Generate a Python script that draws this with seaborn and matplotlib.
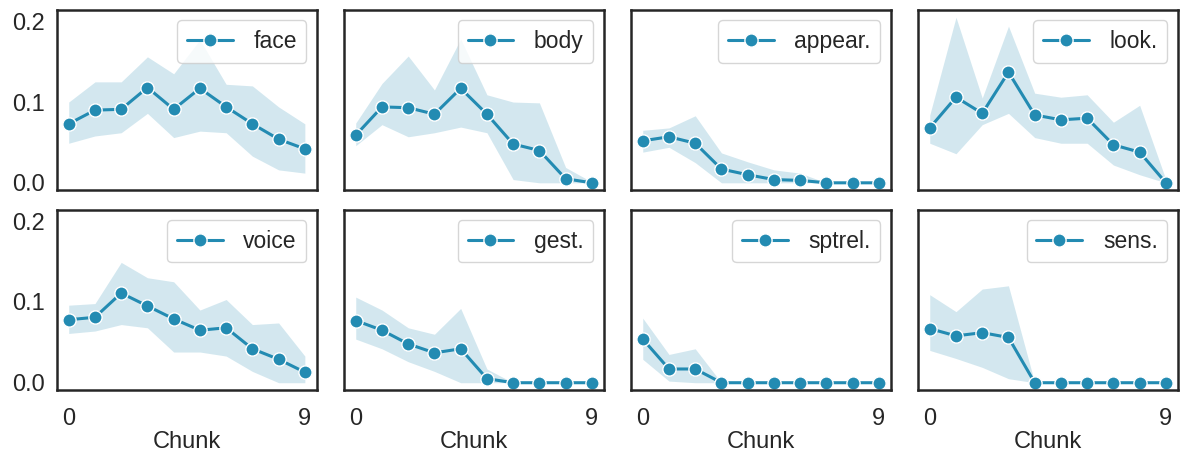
import numpy as np
import pandas as pd
import seaborn as sns
from matplotlib import pyplot as plt

chunks = list(range(10))
labels = ['face', 'body', 'appear.', 'look.', 'voice', 'gest.', 'sptrel.', 'sens.']

face = [0.073, 0.090, 0.091, 0.118, 0.091, 0.117, 0.094, 0.073, 0.054, 0.042]
face_hi = [0.100, 0.125, 0.125, 0.156, 0.135, 0.177, 0.122, 0.120, 0.094, 0.073]
face_lo = [0.049, 0.058, 0.062, 0.086, 0.056, 0.064, 0.062, 0.033, 0.016, 0.012]

body = [0.059, 0.094, 0.093, 0.085, 0.117, 0.085, 0.048, 0.040, 0.005, 0.0]
body_hi = [0.074, 0.123, 0.157, 0.115, 0.178, 0.109, 0.100, 0.099, 0.019, 0.001]
body_lo = [0.046, 0.072, 0.057, 0.062, 0.069, 0.062, 0.004, 0.0, 0.0, 0.0]

appear = [0.052, 0.057, 0.049, 0.017, 0.010, 0.004, 0.003, 0.0, 0.0, 0.0]
appear_hi = [0.065, 0.068, 0.083, 0.037, 0.026, 0.016, 0.012, 0.0, 0.0, 0.0]
appear_lo = [0.038, 0.044, 0.025, 0.0, 0.0, 0.0, 0.0, 0.0, 0.0, 0.0]

look = [0.068, 0.106, 0.086, 0.137, 0.084, 0.078, 0.080, 0.047, 0.038, 0.0]
look_hi = [0.084, 0.205, 0.105, 0.194, 0.111, 0.106, 0.109, 0.075, 0.096, 0.004]
look_lo = [0.049, 0.036, 0.072, 0.086, 0.056, 0.049, 0.049, 0.022, 0.010, 0.0]

voice = [0.078, 0.081, 0.111, 0.095, 0.079, 0.065, 0.068, 0.042, 0.029, 0.013]
voice_hi = [0.096, 0.098, 0.149, 0.130, 0.125, 0.090, 0.103, 0.072, 0.074, 0.033]
voice_lo = [0.061, 0.064, 0.072, 0.068, 0.038, 0.038, 0.033, 0.014, 0.0, 0.0]

gest = [0.077, 0.065, 0.048, 0.037, 0.042, 0.005, 0.0, 0.0, 0.0, 0.0]
gest_hi = [0.106, 0.090, 0.068, 0.060, 0.092, 0.017, 0.0, 0.0, 0.0, 0.0]
gest_lo = [0.054, 0.042, 0.026, 0.014, 0.0, 0.0, 0.0, 0.0, 0.0, 0.0]

sptrel = [0.054, 0.017, 0.017, 0.0, 0.0, 0.0, 0.0, 0.0, 0.0, 0.0]
sptrel_hi = [0.080, 0.035, 0.042, 0.0, 0.0, 0.0, 0.0, 0.0, 0.0, 0.0]
sptrel_lo = [0.029, 0.002, 0.0, 0.0, 0.0, 0.0, 0.0, 0.0, 0.0, 0.0]

sens = [0.067, 0.058, 0.062, 0.056, 0.0, 0.0, 0.0, 0.0, 0.0, 0.0]
sens_hi = [0.109, 0.088, 0.116, 0.120, 0.0, 0.0, 0.0, 0.0, 0.0, 0.0]
sens_lo = [0.040, 0.030, 0.019, 0.005, 0.0, 0.0, 0.0, 0.0, 0.0, 0.0]

means = [face, body, appear, look, voice, gest, sptrel, sens]
highs = [face_hi, body_hi, appear_hi, look_hi, voice_hi, gest_hi, sptrel_hi, sens_hi]
lows = [face_lo, body_lo, appear_lo, look_lo, voice_lo, gest_lo, sptrel_lo, sens_lo]

color = '#238bb2'

sns.set_theme(style='white')
plt.rcParams['font.family'] = ['Liberation Sans', 'DejaVu Sans']
plt.rcParams['axes.edgecolor'] = '.15'
plt.rcParams['axes.linewidth'] = 1.8

fig, axes = plt.subplots(2, 4, figsize=(11.86, 4.54), dpi=100, sharex=True, sharey=True)
for i, ax in enumerate(axes.flat):
    df = pd.DataFrame({'Chunk': chunks, 'val': means[i]})
    ax.fill_between(chunks, lows[i], highs[i], color=color, alpha=0.2, linewidth=0)
    sns.lineplot(data=df, x='Chunk', y='val', ax=ax, color=color, marker='o',
                 markersize=9.5, linewidth=2.2, markeredgecolor='white',
                 markeredgewidth=1, label=labels[i])
    ax.legend(loc='upper right', fontsize=16.5, handlelength=2.0,
              borderpad=0.42, handletextpad=0.9, borderaxespad=0.45, framealpha=0.8)
    ax.set_ylabel('')
    ax.set_xticks([0, 9])
    ax.set_yticks([0.0, 0.1, 0.2])
    ax.set_yticklabels(['0.0', '0.1', '0.2'])
    ax.set_ylim(-0.009, 0.214)
    ax.tick_params(axis='y', labelsize=17, length=0, pad=9)
    ax.tick_params(axis='x', labelsize=17, length=0, pad=13)
    if i < 4:
        ax.set_xlabel('')
    else:
        ax.set_xlabel('Chunk', fontsize=17, labelpad=1)

plt.subplots_adjust(left=0.048, right=0.993, top=0.978, bottom=0.141,
                    wspace=0.105, hspace=0.11)
plt.savefig('out.png')
